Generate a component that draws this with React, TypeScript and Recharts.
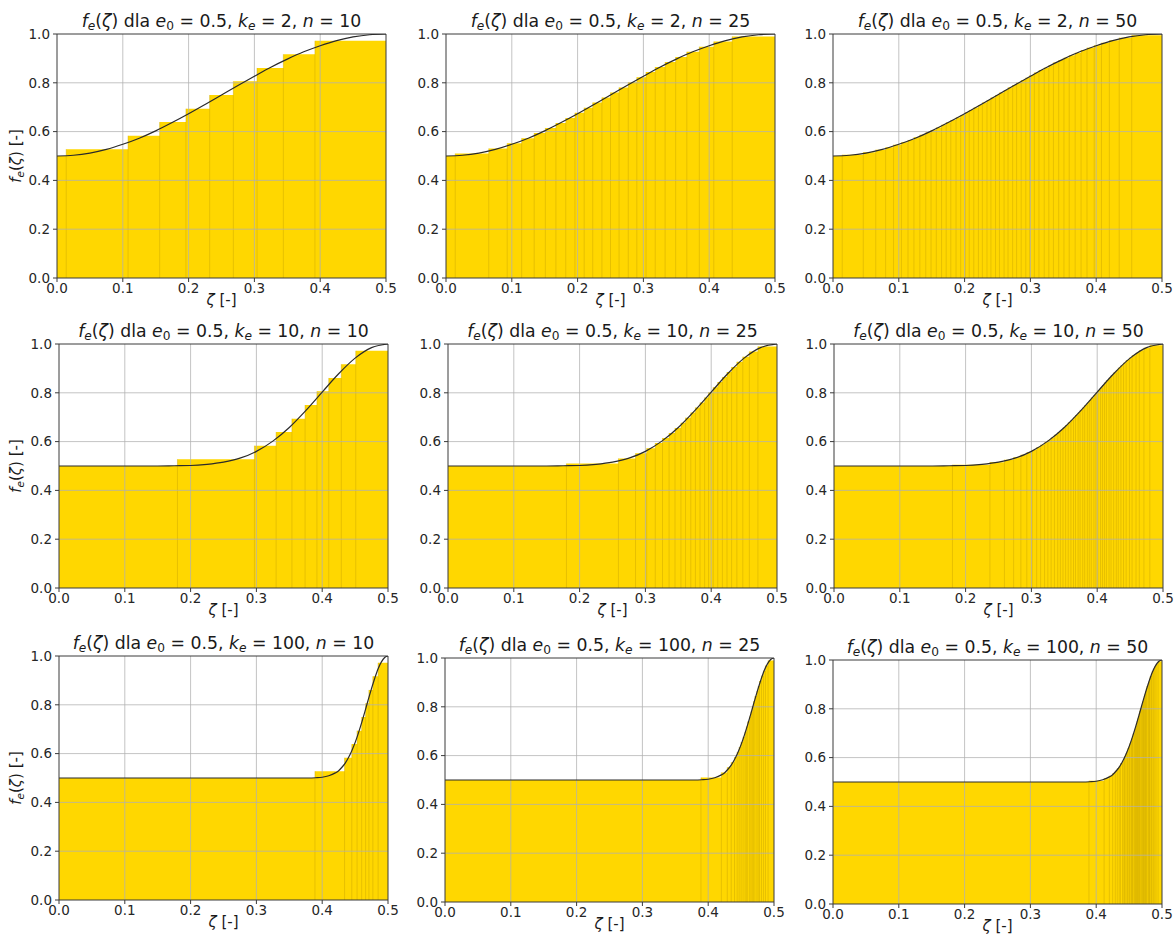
import { Area, ComposedChart, Line, ReferenceLine, XAxis, YAxis } from 'recharts';

const FONT = '"DejaVu Sans", sans-serif';

const xTicks = [0, 0.1, 0.2, 0.3, 0.4, 0.5];
const yTicks = [0, 0.2, 0.4, 0.6, 0.8, 1.0];
const xGrid = [0.1, 0.2, 0.3, 0.4];
const yGrid = [0.2, 0.4, 0.6, 0.8];

// step heights, one per bar
const levels10 = [0.5, 0.528, 0.583, 0.639, 0.694, 0.75, 0.806, 0.861, 0.917, 0.972];
const levels25 = [
  0.5, 0.51, 0.531, 0.552, 0.573, 0.594, 0.615, 0.635, 0.656, 0.677, 0.698, 0.719, 0.74,
  0.76, 0.781, 0.802, 0.823, 0.844, 0.865, 0.885, 0.906, 0.927, 0.948, 0.969, 0.99,
];
const levels50 = [
  0.5, 0.505, 0.515, 0.526, 0.536, 0.546, 0.556, 0.566, 0.577, 0.587, 0.597, 0.607, 0.617,
  0.628, 0.638, 0.648, 0.658, 0.668, 0.679, 0.689, 0.699, 0.709, 0.719, 0.73, 0.74, 0.75,
  0.76, 0.77, 0.781, 0.791, 0.801, 0.811, 0.821, 0.832, 0.842, 0.852, 0.862, 0.872, 0.883,
  0.893, 0.903, 0.913, 0.923, 0.934, 0.944, 0.954, 0.964, 0.974, 0.985, 0.995,
];

// bar edges along ζ (n + 1 values)
const edgesK2N10 = [0, 0.014, 0.108, 0.156, 0.196, 0.232, 0.268, 0.304, 0.344, 0.392, 0.5];
const edgesK2N25 = [
  0, 0.014, 0.065, 0.093, 0.115, 0.134, 0.151, 0.167, 0.182, 0.196, 0.21, 0.223, 0.237, 0.25,
  0.263, 0.277, 0.29, 0.304, 0.318, 0.333, 0.349, 0.366, 0.385, 0.407, 0.435, 0.5,
];
const edgesK2N50 = [
  0, 0.014, 0.046, 0.065, 0.08, 0.092, 0.104, 0.114, 0.123, 0.132, 0.141, 0.149, 0.157, 0.165,
  0.172, 0.179, 0.187, 0.194, 0.201, 0.207, 0.214, 0.221, 0.227, 0.234, 0.24, 0.247, 0.253,
  0.26, 0.266, 0.273, 0.279, 0.286, 0.293, 0.299, 0.306, 0.313, 0.321, 0.328, 0.335, 0.343,
  0.351, 0.359, 0.368, 0.377, 0.386, 0.397, 0.408, 0.42, 0.435, 0.454, 0.5,
];
const edgesK10N10 = [0, 0.18, 0.297, 0.33, 0.354, 0.374, 0.392, 0.41, 0.429, 0.451, 0.5];
const edgesK10N25 = [
  0, 0.18, 0.259, 0.285, 0.302, 0.315, 0.326, 0.336, 0.345, 0.354, 0.361, 0.369, 0.376, 0.383,
  0.39, 0.396, 0.403, 0.41, 0.417, 0.424, 0.431, 0.439, 0.448, 0.458, 0.471, 0.5,
];
const edgesK10N50 = [
  0, 0.18, 0.237, 0.259, 0.273, 0.284, 0.293, 0.301, 0.308, 0.314, 0.32, 0.325, 0.33, 0.335,
  0.34, 0.344, 0.348, 0.352, 0.356, 0.36, 0.364, 0.367, 0.371, 0.374, 0.378, 0.381, 0.385,
  0.388, 0.391, 0.395, 0.398, 0.401, 0.405, 0.408, 0.411, 0.414, 0.418, 0.421, 0.425, 0.429,
  0.432, 0.436, 0.44, 0.444, 0.449, 0.453, 0.459, 0.464, 0.471, 0.48, 0.5,
];
const edgesK100N10 = [0, 0.389, 0.434, 0.445, 0.453, 0.46, 0.466, 0.471, 0.477, 0.485, 0.5];
const edgesK100N25 = [
  0, 0.389, 0.42, 0.429, 0.435, 0.44, 0.444, 0.447, 0.45, 0.453, 0.456, 0.458, 0.46, 0.463,
  0.465, 0.467, 0.469, 0.471, 0.474, 0.476, 0.478, 0.481, 0.484, 0.487, 0.491, 0.5,
];
const edgesK100N50 = [
  0, 0.389, 0.412, 0.42, 0.425, 0.429, 0.432, 0.435, 0.437, 0.44, 0.442, 0.443, 0.445, 0.447,
  0.448, 0.45, 0.451, 0.453, 0.454, 0.455, 0.456, 0.458, 0.459, 0.46, 0.461, 0.462, 0.463,
  0.464, 0.465, 0.466, 0.467, 0.469, 0.47, 0.471, 0.472, 0.473, 0.474, 0.475, 0.476, 0.477,
  0.479, 0.48, 0.481, 0.482, 0.484, 0.485, 0.487, 0.489, 0.491, 0.494, 0.5,
];

// f_e(ζ) curves
const zetaWide = [
  0, 0.025, 0.05, 0.075, 0.1, 0.125, 0.15, 0.175, 0.2, 0.225, 0.25, 0.275, 0.3, 0.325, 0.35,
  0.375, 0.4, 0.425, 0.45, 0.475, 0.5,
];
const curveK2 = [
  0.5, 0.503, 0.512, 0.527, 0.548, 0.573, 0.603, 0.637, 0.673, 0.711, 0.75, 0.789, 0.827,
  0.864, 0.897, 0.927, 0.952, 0.973, 0.988, 0.997, 1.0,
];
const curveK10 = [
  0.5, 0.5, 0.5, 0.5, 0.5, 0.5, 0.5, 0.501, 0.502, 0.507, 0.516, 0.532, 0.56, 0.602, 0.658,
  0.727, 0.803, 0.878, 0.942, 0.985, 1.0,
];
const zetaNarrow = [
  0, 0.1, 0.2, 0.3, 0.35, 0.38, 0.39, 0.4, 0.41, 0.42, 0.425, 0.43, 0.435, 0.44, 0.445, 0.45,
  0.455, 0.46, 0.465, 0.47, 0.475, 0.48, 0.485, 0.49, 0.495, 0.5,
];
const curveK100 = [
  0.5, 0.5, 0.5, 0.5, 0.5, 0.5, 0.501, 0.503, 0.509, 0.521, 0.53, 0.544, 0.561, 0.584, 0.612,
  0.645, 0.684, 0.727, 0.773, 0.821, 0.867, 0.91, 0.948, 0.976, 0.994, 1.0,
];

const PLOT_W = 329;
const PLOT_H = 244;
const Y_AXIS_W = 40;
const TOP = 10;
const RIGHT = 16;
const X_AXIS_H = 30;

const GOLD = '#FFD700';
const EDGE = '#c9a200';
const GRID = '#b0b0b0';
const SPINE = '#3a3a3a';
const INK = '#262626';

type Panel = {
  k: number;
  n: number;
  edges: number[];
  levels: number[];
  zeta: number[];
  curve: number[];
  left: number;
  top: number;
  yLabel?: boolean;
};

const panels: Panel[] = [
  { k: 2, n: 10, edges: edgesK2N10, levels: levels10, zeta: zetaWide, curve: curveK2, left: 57, top: 34, yLabel: true },
  { k: 2, n: 25, edges: edgesK2N25, levels: levels25, zeta: zetaWide, curve: curveK2, left: 446, top: 34 },
  { k: 2, n: 50, edges: edgesK2N50, levels: levels50, zeta: zetaWide, curve: curveK2, left: 833, top: 34 },
  { k: 10, n: 10, edges: edgesK10N10, levels: levels10, zeta: zetaWide, curve: curveK10, left: 59, top: 344, yLabel: true },
  { k: 10, n: 25, edges: edgesK10N25, levels: levels25, zeta: zetaWide, curve: curveK10, left: 448, top: 344 },
  { k: 10, n: 50, edges: edgesK10N50, levels: levels50, zeta: zetaWide, curve: curveK10, left: 834, top: 344 },
  { k: 100, n: 10, edges: edgesK100N10, levels: levels10, zeta: zetaNarrow, curve: curveK100, left: 59, top: 656, yLabel: true },
  { k: 100, n: 25, edges: edgesK100N25, levels: levels25, zeta: zetaNarrow, curve: curveK100, left: 445, top: 658 },
  { k: 100, n: 50, edges: edgesK100N50, levels: levels50, zeta: zetaNarrow, curve: curveK100, left: 833, top: 660 },
];

const fmt = (v: number) => v.toFixed(1);

function stepPoints(edges: number[], levels: number[]) {
  const pts = levels.map((y, i) => ({ x: edges[i], y }));
  pts.push({ x: edges[edges.length - 1], y: levels[levels.length - 1] });
  return pts;
}

function PanelChart({ p }: { p: Panel }) {
  const steps = stepPoints(p.edges, p.levels);
  const curve = p.zeta.map((x, i) => ({ x, f: p.curve[i] }));
  const tick = { fill: INK, fontSize: 13.5, fontFamily: FONT };
  return (
    <div style={{ position: 'absolute', left: p.left - Y_AXIS_W, top: p.top - TOP }}>
      <ComposedChart
        width={Y_AXIS_W + PLOT_W + RIGHT}
        height={TOP + PLOT_H + X_AXIS_H}
        margin={{ top: TOP, right: RIGHT, bottom: 0, left: 0 }}
      >
        <XAxis
          type="number"
          dataKey="x"
          domain={[0, 0.5]}
          ticks={xTicks}
          allowDataOverflow
          tickFormatter={fmt}
          height={X_AXIS_H}
          tick={tick}
          tickSize={4}
          tickMargin={1}
          stroke={SPINE}
          interval={0}
        />
        <YAxis
          type="number"
          domain={[0, 1]}
          ticks={yTicks}
          allowDataOverflow
          tickFormatter={fmt}
          width={Y_AXIS_W}
          tick={tick}
          tickSize={4}
          tickMargin={3}
          stroke={SPINE}
          interval={0}
        />
        <Area
          data={steps}
          dataKey="y"
          type="stepAfter"
          fill={GOLD}
          fillOpacity={1}
          stroke="none"
          isAnimationActive={false}
        />
        {p.edges.slice(1, -1).map((x, i) => (
          <ReferenceLine
            key={`e${i}`}
            segment={[
              { x, y: 0 },
              { x, y: p.levels[i + 1] },
            ]}
            stroke={EDGE}
            strokeOpacity={0.55}
            strokeWidth={0.8}
          />
        ))}
        {xGrid.map((x) => (
          <ReferenceLine key={`gx${x}`} x={x} stroke={GRID} strokeWidth={0.9} strokeOpacity={0.85} />
        ))}
        {yGrid.map((y) => (
          <ReferenceLine key={`gy${y}`} y={y} stroke={GRID} strokeWidth={0.9} strokeOpacity={0.85} />
        ))}
        <ReferenceLine y={1} stroke={SPINE} strokeWidth={1} />
        <ReferenceLine x={0.5} stroke={SPINE} strokeWidth={1} />
        <Line
          data={curve}
          dataKey="f"
          type="monotone"
          stroke="#2a2a2a"
          strokeWidth={1.2}
          dot={false}
          isAnimationActive={false}
        />
      </ComposedChart>
    </div>
  );
}

const sub = { fontSize: 12.2 };

function Title({ p }: { p: Panel }) {
  return (
    <text
      x={p.left + PLOT_W / 2}
      y={p.top - 7}
      textAnchor="middle"
      fontSize={17.3}
      fontFamily={FONT}
      fill="#1a1a1a"
      style={{ whiteSpace: 'pre' }}
    >
      <tspan fontStyle="italic">f</tspan>
      <tspan fontStyle="italic" {...sub} dy={3}>e</tspan>
      <tspan dy={-3}>(</tspan>
      <tspan fontStyle="italic">ζ</tspan>
      <tspan>) dla </tspan>
      <tspan fontStyle="italic">e</tspan>
      <tspan {...sub} dy={3}>0</tspan>
      <tspan dy={-3}>{' = 0.5, '}</tspan>
      <tspan fontStyle="italic">k</tspan>
      <tspan fontStyle="italic" {...sub} dy={3}>e</tspan>
      <tspan dy={-3}>{` = ${p.k}, `}</tspan>
      <tspan fontStyle="italic">n</tspan>
      <tspan>{` = ${p.n}`}</tspan>
    </text>
  );
}

function AxisLabels({ p }: { p: Panel }) {
  const cy = p.top + PLOT_H / 2;
  return (
    <g fontFamily={FONT} fill="#1a1a1a" fontSize={15} style={{ whiteSpace: 'pre' }}>
      <text x={p.left + PLOT_W / 2} y={p.top + PLOT_H + 27} textAnchor="middle">
        <tspan fontStyle="italic">ζ</tspan>
        <tspan> [-]</tspan>
      </text>
      {p.yLabel && (
        <text x={21} y={cy} textAnchor="middle" transform={`rotate(-90, 21, ${cy})`}>
          <tspan fontStyle="italic">f</tspan>
          <tspan fontStyle="italic" fontSize={10.5} dy={3}>e</tspan>
          <tspan dy={-3}>(</tspan>
          <tspan fontStyle="italic">ζ</tspan>
          <tspan>) [-]</tspan>
        </text>
      )}
    </g>
  );
}

export default function App() {
  return (
    <div
      style={{
        position: 'absolute',
        left: 0,
        top: 0,
        width: 1174,
        height: 944,
        background: '#fff',
        overflow: 'hidden',
      }}
    >
      {panels.map((p) => (
        <PanelChart key={`${p.k}-${p.n}`} p={p} />
      ))}
      <svg
        width={1174}
        height={944}
        style={{ position: 'absolute', left: 0, top: 0, pointerEvents: 'none' }}
      >
        {panels.map((p) => (
          <g key={`t${p.k}-${p.n}`}>
            <Title p={p} />
            <AxisLabels p={p} />
          </g>
        ))}
      </svg>
    </div>
  );
}
